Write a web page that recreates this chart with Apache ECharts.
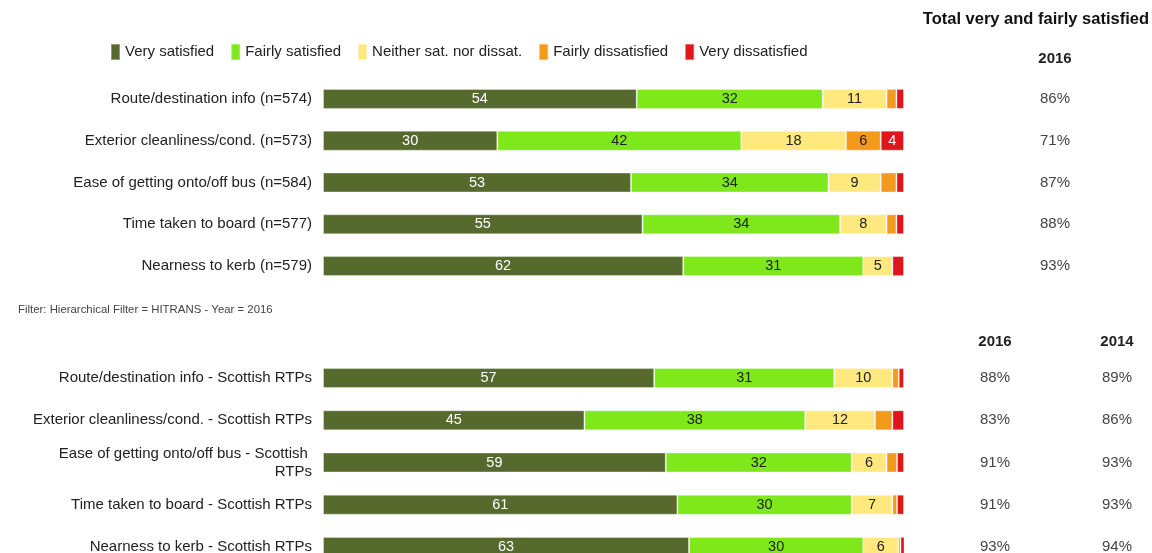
<!DOCTYPE html>
<html>
<head>
<meta charset="utf-8">
<script src="https://cdn.jsdelivr.net/npm/echarts@6/dist/echarts.min.js"></script>
<style>
  html, body { margin: 0; padding: 0; background: #fff; }
  #chart { width: 1152px; height: 553px; }
</style>
</head>
<body>
<div id="chart"></div>
<script>
// Satisfaction levels (legend order)
const levels = ['Very satisfied', 'Fairly satisfied', 'Neither sat. nor dissat.', 'Fairly dissatisfied', 'Very dissatisfied'];
const levelColors = ['#566a2d', '#7fe81a', '#ffe97f', '#f39a1c', '#e0141b'];

// HITRANS 2016
const hitransCats = [
  'Route/destination info (n=574)',
  'Exterior cleanliness/cond. (n=573)',
  'Ease of getting onto/off bus (n=584)',
  'Time taken to board (n=577)',
  'Nearness to kerb (n=579)'
];
const hitransVery      = [54, 30, 53, 55, 62];
const hitransFairly    = [32, 42, 34, 34, 31];
const hitransNeither   = [11, 18, 9, 8, 5];
const hitransFairlyDis = [1.7, 6, 2.7, 1.7, 0];
const hitransVeryDis   = [1.3, 4, 1.3, 1.3, 2];
const hitransTotal2016 = ['86%', '71%', '87%', '88%', '93%'];

// Scottish RTPs
const rtpCats = [
  'Route/destination info - Scottish RTPs',
  'Exterior cleanliness/cond. - Scottish RTPs',
  'Ease of getting onto/off bus - Scottish RTPs',
  'Time taken to board - Scottish RTPs',
  'Nearness to kerb - Scottish RTPs'
];
const rtpVery      = [57, 45, 59, 61, 63];
const rtpFairly    = [31, 38, 32, 30, 30];
const rtpNeither   = [10, 12, 6, 7, 6];
const rtpFairlyDis = [1.1, 3, 1.8, 0.8, 0.4];
const rtpVeryDis   = [0.9, 2, 1.2, 1.2, 0.8];
const rtpTotal2016 = ['88%', '83%', '91%', '91%', '93%'];
const rtpTotal2014 = ['89%', '86%', '93%', '93%', '94%'];

const FONT = '"Liberation Sans", Arial, Helvetica, sans-serif';
const hitransSets = [hitransVery, hitransFairly, hitransNeither, hitransFairlyDis, hitransVeryDis];
const rtpSets = [rtpVery, rtpFairly, rtpNeither, rtpFairlyDis, rtpVeryDis];
const labelColors = ['#ffffff', '#222222', '#222222', '#222222', '#ffffff'];

function makeSeries(sets, axisIdx) {
  return sets.map((vals, i) => ({
    name: levels[i],
    type: 'bar',
    stack: 'g' + axisIdx,
    xAxisIndex: axisIdx,
    yAxisIndex: axisIdx === 0 ? 0 : 2,
    barWidth: 20,
    data: vals,
    itemStyle: { color: levelColors[i], borderColor: 'rgba(255,255,255,0.35)', borderWidth: 1 },
    label: {
      show: true,
      position: 'inside',
      fontFamily: FONT,
      fontSize: 14.5,
      color: labelColors[i],
      formatter: p => (p.value >= 4 ? String(p.value) : '')
    },
    emphasis: { disabled: true },
    animation: false
  }));
}

function valueAxis(gridIndex) {
  return { type: 'value', gridIndex, min: 0, max: 100, show: false };
}

function catAxis(gridIndex, data) {
  return {
    type: 'category', gridIndex, data, inverse: true,
    axisLine: { show: false }, axisTick: { show: false },
    axisLabel: {
      fontFamily: FONT, fontSize: 15, color: '#222', margin: 11,
      width: 286, overflow: 'break', lineHeight: 18, align: 'right'
    }
  };
}

function totalAxis(gridIndex, data, offset) {
  return {
    type: 'category', gridIndex, data, inverse: true, position: 'right', offset,
    axisLine: { show: false }, axisTick: { show: false },
    axisLabel: { fontFamily: FONT, fontSize: 15, color: '#444', margin: 0, align: 'center' }
  };
}

const chart = echarts.init(document.getElementById('chart'), null, { renderer: 'canvas' });
chart.setOption({
  backgroundColor: '#ffffff',
  animation: false,
  textStyle: { fontFamily: FONT },
  legend: {
    data: levels,
    left: 105, top: 38,
    icon: 'rect', itemWidth: 9, itemHeight: 16, itemGap: 16,
    textStyle: { fontFamily: FONT, fontSize: 15, color: '#222' },
    selectedMode: false
  },
  grid: [
    { left: 323, right: 248, top: 78, height: 209, outerBoundsMode: 'none' },
    { left: 323, right: 248, top: 357, height: 211, outerBoundsMode: 'none' }
  ],
  xAxis: [valueAxis(0), valueAxis(1)],
  yAxis: [
    catAxis(0, hitransCats),
    totalAxis(0, hitransTotal2016, 151),
    catAxis(1, rtpCats),
    totalAxis(1, rtpTotal2016, 91),
    totalAxis(1, rtpTotal2014, 213)
  ],
  series: [...makeSeries(hitransSets, 0), ...makeSeries(rtpSets, 1)],
  graphic: [
    { type: 'text', x: 1149, y: 19, style: { text: 'Total very and fairly satisfied', font: 'bold 16.5px ' + FONT, fill: '#111', textAlign: 'right', textVerticalAlign: 'middle' } },
    { type: 'text', x: 1055, y: 59, style: { text: '2016', font: 'bold 15px ' + FONT, fill: '#222', textAlign: 'center', textVerticalAlign: 'middle' } },
    { type: 'text', x: 18, y: 310, style: { text: 'Filter: Hierarchical Filter = HITRANS - Year = 2016', font: '11.4px ' + FONT, fill: '#444', textVerticalAlign: 'middle' } },
    { type: 'text', x: 995, y: 342, style: { text: '2016', font: 'bold 15px ' + FONT, fill: '#222', textAlign: 'center', textVerticalAlign: 'middle' } },
    { type: 'text', x: 1117, y: 342, style: { text: '2014', font: 'bold 15px ' + FONT, fill: '#222', textAlign: 'center', textVerticalAlign: 'middle' } }
  ]
});
</script>
</body>
</html>
